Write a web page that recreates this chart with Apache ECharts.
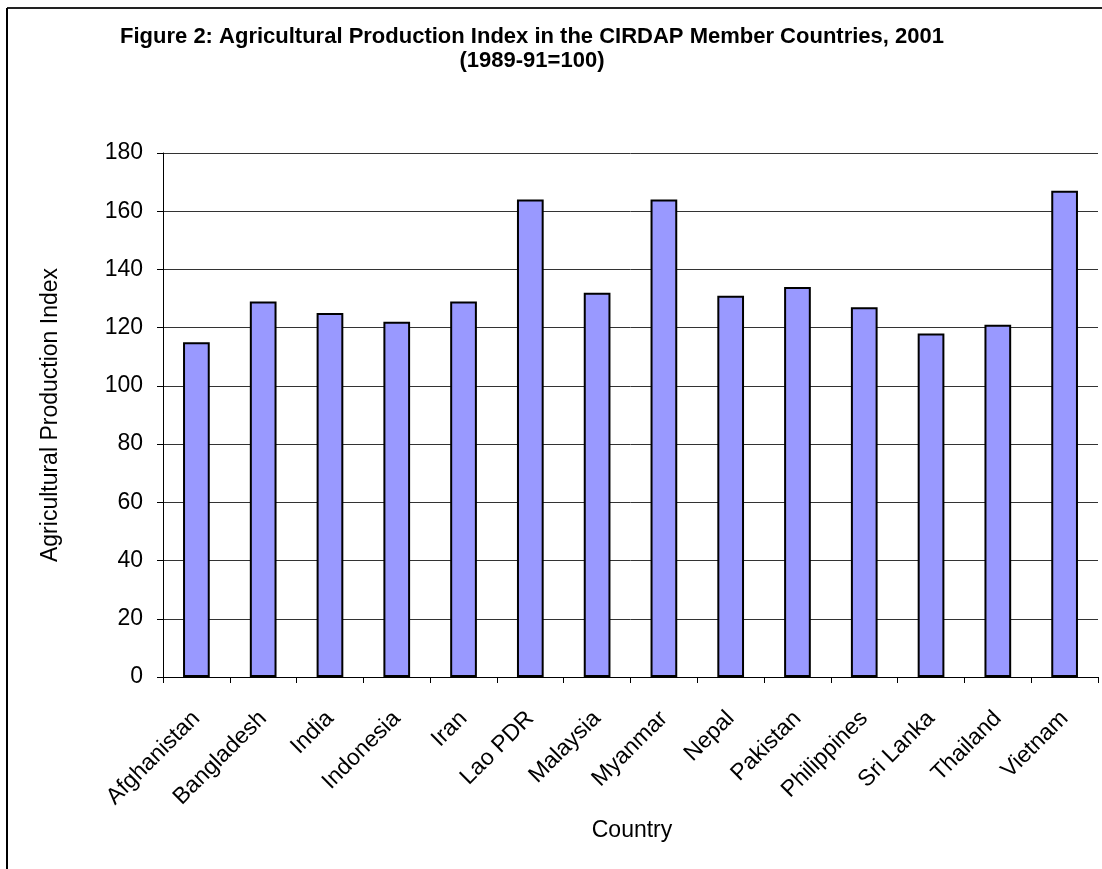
<!DOCTYPE html>
<html style="height: 100%;">
<head>
<meta charset="utf-8">
<title>Agricultural Production Index</title>
<script type="text/javascript" src="https://cdn.jsdelivr.net/npm/echarts@6/dist/echarts.min.js"></script>
</head>
<body style="height: 100%; margin: 0; background: #fff">
<div id="container" style="width: 1102px; height: 869px"></div>
<script type="text/javascript">
// data
var countries = ['Afghanistan', 'Bangladesh', 'India', 'Indonesia', 'Iran', 'Lao PDR', 'Malaysia',
    'Myanmar', 'Nepal', 'Pakistan', 'Philippines', 'Sri Lanka', 'Thailand', 'Vietnam'];
var indexValues = [115, 129, 125, 122, 129, 164, 132, 164, 131, 134, 127, 118, 121, 167];
var yTicks = { min: 0, max: 180, interval: 20 };

var titleLine1 = 'Figure 2: Agricultural Production Index in the CIRDAP Member Countries, 2001';
var titleLine2 = '(1989-91=100)';

var font = 'Arial, "Liberation Sans", sans-serif';
var myChart = echarts.init(document.getElementById('container'));

var option = {
    backgroundColor: '#fff',
    animation: false,
    grid: { left: 163, right: 4, top: 153, bottom: 192, containLabel: false },
    graphic: [
        // frame lines (top and left)
        { type: 'line', shape: { x1: 7, y1: 8, x2: 1102, y2: 8 }, style: { stroke: '#222', lineWidth: 2 } },
        { type: 'line', shape: { x1: 7, y1: 8, x2: 7, y2: 869 }, style: { stroke: '#000', lineWidth: 2 } },
        { type: 'text', x: 532, y: 37, style: { text: titleLine1, font: 'bold 22px ' + font, fill: '#000', textAlign: 'center', textVerticalAlign: 'middle' } },
        { type: 'text', x: 532, y: 61, style: { text: titleLine2, font: 'bold 22px ' + font, fill: '#000', textAlign: 'center', textVerticalAlign: 'middle' } },
        { type: 'text', x: 51, y: 415, rotation: Math.PI / 2, style: { text: 'Agricultural Production Index', font: '23px ' + font, fill: '#000', textAlign: 'center', textVerticalAlign: 'middle' } },
        { type: 'text', x: 632, y: 831, style: { text: 'Country', font: '23px ' + font, fill: '#000', textAlign: 'center', textVerticalAlign: 'middle' } }
    ],
    xAxis: {
        type: 'category',
        data: countries,
        axisLine: { lineStyle: { color: '#000', width: 1 } },
        axisTick: { show: true, length: 6, lineStyle: { color: '#000' } },
        axisLabel: { rotate: 45, margin: 38, interval: 0, fontSize: 23, fontFamily: font, color: '#000' }
    },
    yAxis: {
        type: 'value',
        min: yTicks.min,
        max: yTicks.max,
        interval: yTicks.interval,
        axisLine: { show: true, lineStyle: { color: '#000', width: 1 } },
        axisTick: { show: true, length: 6, lineStyle: { color: '#000' } },
        axisLabel: { margin: 20, fontSize: 23, fontFamily: font, color: '#000' },
        splitLine: { show: true, lineStyle: { color: '#333', width: 1 } }
    },
    series: [{
        type: 'bar',
        data: indexValues,
        barWidth: '40%',
        itemStyle: { color: '#9999FF', borderColor: '#000', borderWidth: 2 }
    }]
};
myChart.setOption(option);
</script>
</body>
</html>
